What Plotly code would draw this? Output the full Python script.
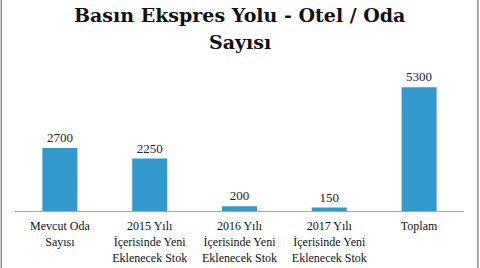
import plotly.graph_objects as go

categories = [
    "Mevcut Oda<br>Sayısı",
    "2015 Yılı<br>İçerisinde Yeni<br>Eklenecek Stok",
    "2016 Yılı<br>İçerisinde Yeni<br>Eklenecek Stok",
    "2017 Yılı<br>İçerisinde Yeni<br>Eklenecek Stok",
    "Toplam",
]
values = [2700, 2250, 200, 150, 5300]
title_lines = ["Basın Ekspres Yolu - Otel / Oda", "Sayısı"]

FONT = "Liberation Serif"

fig = go.Figure(
    go.Bar(
        x=categories,
        y=values,
        marker=dict(color="#3399cc", line=dict(width=0)),
        width=0.39,
        text=[str(v) for v in values],
        textposition="outside",
        textfont=dict(family=FONT, size=13, color="#222222"),
        cliponaxis=False,
    )
)

title_font = dict(family="DejaVu Serif", size=19, color="#111111", weight="bold")
annotations = [
    dict(text=title_lines[0], xref="paper", yref="paper", x=0.5, y=1.40,
         xanchor="center", yanchor="middle", showarrow=False, font=title_font),
    dict(text=title_lines[1], xref="paper", yref="paper", x=0.5, y=1.205,
         xanchor="center", yanchor="middle", showarrow=False, font=title_font),
]

fig.update_layout(
    width=480,
    height=268,
    margin=dict(l=15, r=16, t=71, b=57, autoexpand=False),
    paper_bgcolor="white",
    plot_bgcolor="white",
    showlegend=False,
    annotations=annotations,
    xaxis=dict(
        showline=True,
        linecolor="#a6a6a6",
        linewidth=1,
        ticks="",
        showgrid=False,
        automargin=False,
        ticklabelstandoff=4,
        tickfont=dict(family=FONT, size=12, color="#111111"),
    ),
    yaxis=dict(visible=False, range=[0, 6000], showgrid=False, automargin=False),
    shapes=[
        dict(type="line", xref="paper", yref="paper", x0=-0.0305, x1=-0.0305, y0=-0.5, y1=1.6,
             line=dict(color="#8c8c8c", width=1.5)),
        dict(type="line", xref="paper", yref="paper", x0=1.031, x1=1.031, y0=-0.5, y1=1.6,
             line=dict(color="#8c8c8c", width=1.5)),
    ],
)

fig.write_html("out.html")
